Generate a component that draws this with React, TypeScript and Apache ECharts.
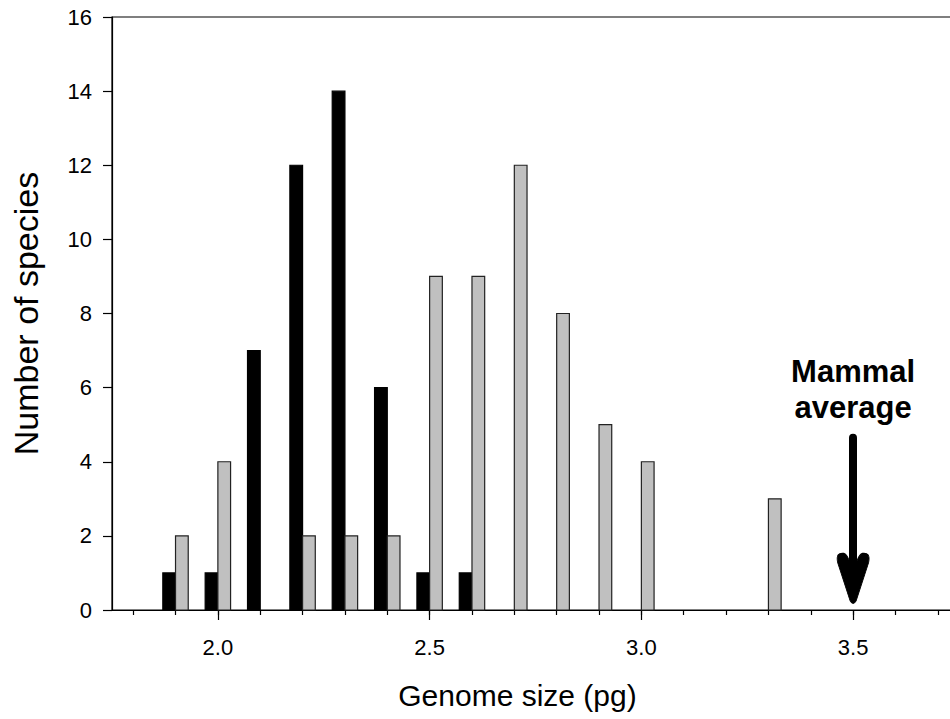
import React, { useEffect, useRef } from "react";
import * as echarts from "echarts";

// Genome size bins (pg)
const blackX = [1.9, 2.0, 2.1, 2.2, 2.3, 2.4, 2.5, 2.6];
const blackY = [1, 1, 7, 12, 14, 6, 1, 1];
const grayX = [1.9, 2.0, 2.2, 2.3, 2.4, 2.5, 2.6, 2.7, 2.8, 2.9, 3.0, 3.3];
const grayY = [2, 4, 2, 2, 2, 9, 9, 12, 8, 5, 4, 3];

const majorTicks = [2.0, 2.5, 3.0, 3.5];
const minorTicks = [1.8, 1.9, 2.0, 2.1, 2.2, 2.3, 2.4, 2.5, 2.6, 2.7, 2.8, 2.9, 3.0, 3.1, 3.2, 3.3, 3.4, 3.5, 3.6, 3.7];

const mammalAverage = 3.5;
const arrowTop = 4.65;
const arrowShaftEnd = 1.0;
const arrowTip = 0.18;
const annotationY = 5.95;
const annotationText = "Mammal\naverage";

const BAR_W = 0.03;
const FONT = "'Liberation Sans', Arial, sans-serif";
const ARROW_HEAD =
  "path://M13,47 L1,12 Q-1,3 7,4 Q10,5 12,10 L16,22 L20,10 Q22,5 25,4 Q33,3 31,12 L19,47 Q16,52 13,47 Z";

function makeRender(side: "left" | "right", fill: string, stroke: string) {
  return (params: any, api: any) => {
    const x = api.value(0);
    const y = api.value(1);
    const p0 = api.coord([x, 0]);
    const p1 = api.coord([x, y]);
    const w = api.size([BAR_W, 0])[0];
    return {
      type: "rect",
      shape: {
        x: side === "left" ? p0[0] - w : p0[0],
        y: p1[1],
        width: w,
        height: p0[1] - p1[1],
      },
      style: { fill, stroke, lineWidth: 1.2 },
    };
  };
}

export default function App() {
  const ref = useRef<HTMLDivElement>(null);
  useEffect(() => {
    if (!ref.current) return;
    const chart = echarts.init(ref.current, undefined, { renderer: "svg" });
    chart.setOption({
      animation: false,
      backgroundColor: "#fff",
      textStyle: { fontFamily: FONT },
      grid: {
        left: 112,
        top: 17,
        right: 0,
        bottom: 109,
        show: true,
        borderColor: "#000",
        borderWidth: 1.2,
        backgroundColor: "transparent",
      },
      xAxis: [
        {
          type: "value",
          min: 1.75,
          max: 3.75,
          position: "bottom",
          name: "Genome size (pg)",
          nameLocation: "middle",
          nameGap: 70,
          nameTextStyle: {
            fontSize: 30,
            color: "#000",
            fontFamily: FONT,
            padding: [0, 36, 0, 0],
          },
          splitLine: { show: false },
          axisLine: { show: true, onZero: false, lineStyle: { color: "#000", width: 1.2 } },
          axisTick: {
            show: true,
            inside: false,
            length: 10,
            customValues: majorTicks,
            lineStyle: { color: "#000", width: 1.2 },
          },
          axisLabel: {
            show: true,
            customValues: majorTicks,
            margin: 26,
            fontSize: 22,
            color: "#000",
            fontFamily: FONT,
            formatter: (v: number) => v.toFixed(1),
          },
        },
        {
          type: "value",
          min: 1.75,
          max: 3.75,
          position: "bottom",
          offset: 0,
          splitLine: { show: false },
          axisLine: { show: false },
          axisLabel: { show: false },
          axisTick: {
            show: true,
            inside: false,
            length: 5,
            customValues: minorTicks,
            lineStyle: { color: "#000", width: 1.2 },
          },
        },
      ],
      yAxis: {
        type: "value",
        min: 0,
        max: 16,
        interval: 2,
        name: "Number of species",
        nameLocation: "middle",
        nameGap: 69,
        nameRotate: 90,
        nameTextStyle: { fontSize: 34, color: "#000", fontFamily: FONT },
        splitLine: { show: false },
        axisLine: { show: true, lineStyle: { color: "#000", width: 1.2 } },
        axisTick: { show: true, inside: false, length: 9, lineStyle: { color: "#000", width: 1.2 } },
        axisLabel: { margin: 20, fontSize: 22, color: "#000", fontFamily: FONT },
      },
      series: [
        {
          type: "custom",
          name: "black",
          xAxisIndex: 0,
          renderItem: makeRender("left", "#000", "#000"),
          encode: { x: 0, y: 1 },
          data: blackX.map((x, i) => [x, blackY[i]]),
        },
        {
          type: "custom",
          name: "gray",
          xAxisIndex: 0,
          renderItem: makeRender("right", "#c0c0c0", "#222"),
          encode: { x: 0, y: 1 },
          data: grayX.map((x, i) => [x, grayY[i]]),
        },
        {
          type: "line",
          name: "annotation",
          xAxisIndex: 0,
          data: [],
          silent: true,
          markLine: {
            silent: true,
            animation: false,
            symbol: ["none", "none"],
            label: { show: false },
            lineStyle: { color: "#000", width: 8, type: "solid", cap: "round" },
            data: [
              [
                { coord: [mammalAverage, arrowTop] },
                { coord: [mammalAverage, arrowShaftEnd] },
              ],
            ],
          },
          markPoint: {
            silent: true,
            data: [
              {
                coord: [mammalAverage, annotationY],
                symbol: "circle",
                symbolSize: 0,
                label: {
                  show: true,
                  position: "inside",
                  formatter: annotationText,
                  fontSize: 31,
                  fontWeight: "bold",
                  lineHeight: 36,
                  color: "#000",
                  fontFamily: FONT,
                  align: "center",
                },
              },
              {
                coord: [mammalAverage, arrowTip],
                symbol: ARROW_HEAD,
                symbolSize: [32, 50],
                symbolOffset: [0, "-50%"],
                symbolKeepAspect: false,
                itemStyle: { color: "#000", borderColor: "#000", borderWidth: 1 },
                label: { show: false },
              },
            ],
          },
        },
      ],
    });
    return () => chart.dispose();
  }, []);
  return (
    <div
      style={{
        position: "absolute",
        left: 0,
        top: 0,
        width: 950,
        height: 719,
        overflow: "hidden",
        background: "#fff",
      }}
    >
      <div ref={ref} style={{ width: 959, height: 719 }} />
    </div>
  );
}
